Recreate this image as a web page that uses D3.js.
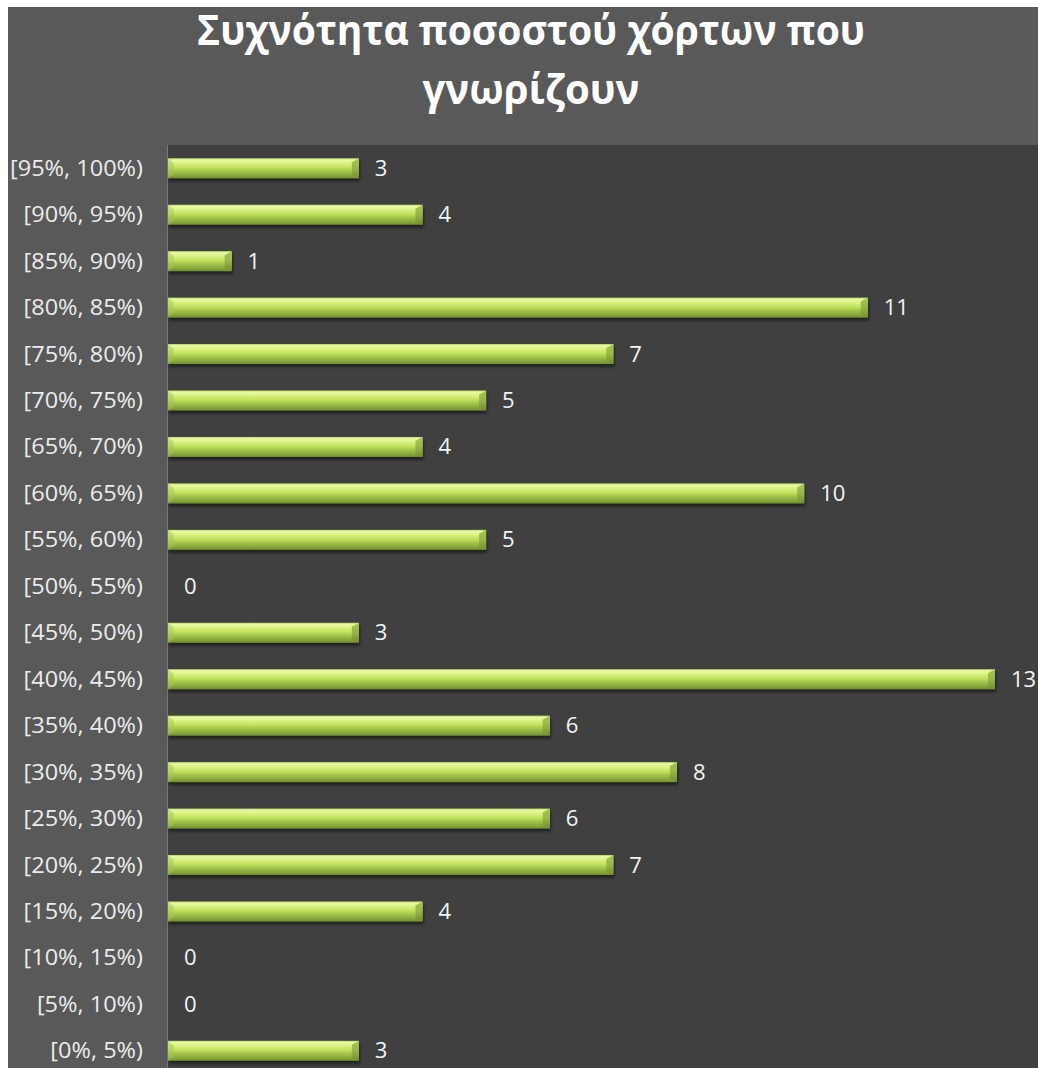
<!DOCTYPE html>
<html>
<head>
<meta charset="utf-8">
<script src="https://cdn.jsdelivr.net/npm/d3@7/dist/d3.min.js"></script>
<style>
  html, body { margin: 0; padding: 0; background: #ffffff; }
  svg { display: block; }
</style>
</head>
<body>
<svg id="chart" width="1038" height="1068"></svg>
<script>
// Frequency of the share of known herbs, in 5% bins (bottom to top)
const categories = [
  "[0%, 5%)", "[5%, 10%)", "[10%, 15%)", "[15%, 20%)", "[20%, 25%)",
  "[25%, 30%)", "[30%, 35%)", "[35%, 40%)", "[40%, 45%)", "[45%, 50%)",
  "[50%, 55%)", "[55%, 60%)", "[60%, 65%)", "[65%, 70%)", "[70%, 75%)",
  "[75%, 80%)", "[80%, 85%)", "[85%, 90%)", "[90%, 95%)", "[95%, 100%)"
];
const counts = [3, 0, 0, 4, 7, 6, 8, 6, 13, 3, 0, 5, 10, 4, 5, 7, 11, 1, 4, 3];
const titleLines = ["Συχνότητα ποσοστού  χόρτων που", "γνωρίζουν"];

const W = 1038, H = 1068;
const svg = d3.select("#chart");

// Outer chart frame
svg.append("rect").attr("x", 8).attr("y", 7).attr("width", W - 8).attr("height", H - 7)
  .attr("fill", "#595959");

// Plot area
const plot = { left: 167, top: 145, right: W, bottom: 1074 };
svg.append("rect").attr("x", plot.left).attr("y", plot.top)
  .attr("width", plot.right - plot.left).attr("height", H - plot.top)
  .attr("fill", "#404040");

const defs = svg.append("defs");
const grad = defs.append("linearGradient").attr("id", "barGrad")
  .attr("x1", 0).attr("y1", 0).attr("x2", 0).attr("y2", 1);
[
  [0.00, "#b4d463"], [0.08, "#e9f9a6"], [0.25, "#daf282"], [0.48, "#bfdf5c"],
  [0.62, "#a7c84d"], [0.82, "#8eac3f"], [1.00, "#738f31"]
].forEach(([o, c]) => grad.append("stop").attr("offset", o).attr("stop-color", c));

const endGrad = defs.append("linearGradient").attr("id", "endGrad")
  .attr("x1", 0).attr("y1", 0).attr("x2", 0).attr("y2", 1);
[[0, "#a6c653"], [0.5, "#96b647"], [1, "#728d31"]]
  .forEach(([o, c]) => endGrad.append("stop").attr("offset", o).attr("stop-color", c));

const shadow = defs.append("filter").attr("id", "barShadow")
  .attr("x", "-5%").attr("y", "-30%").attr("width", "110%").attr("height", "180%");
shadow.append("feDropShadow").attr("dx", 1).attr("dy", 3).attr("stdDeviation", 1.5)
  .attr("flood-color", "#000").attr("flood-opacity", 0.5);

// Scales
const x = d3.scaleLinear().domain([0, 13]).range([168, 995]);
const y = d3.scaleBand().domain(categories.slice().reverse())
  .range([plot.top, plot.bottom]).paddingInner(0.57).paddingOuter(0.285);

// Category axis line
svg.append("line").attr("x1", plot.left + 0.5).attr("x2", plot.left + 0.5)
  .attr("y1", plot.top).attr("y2", H).attr("stroke", "#7a7a7a").attr("stroke-width", 1);

const data = categories.map((c, i) => ({ cat: c, v: counts[i] }));

// Bars
const bars = svg.append("g").selectAll("g.bar")
  .data(data.filter(d => d.v > 0)).join("g").attr("class", "bar")
  .attr("filter", "url(#barShadow)");

bars.append("rect")
  .attr("x", x(0)).attr("y", d => y(d.cat))
  .attr("width", d => x(d.v) - x(0)).attr("height", y.bandwidth())
  .attr("fill", "url(#barGrad)");

// Bevelled right end
bars.append("path")
  .attr("d", d => {
    const x1 = x(d.v), t = y(d.cat), b = t + y.bandwidth();
    return `M${x1 - 7},${t + 4} L${x1},${t} L${x1},${b} L${x1 - 7},${b - 3} Z`;
  })
  .attr("fill", "url(#endGrad)");

// Bevelled left end highlight
bars.append("path")
  .attr("d", d => {
    const x0 = x(0), t = y(d.cat), b = t + y.bandwidth();
    return `M${x0},${t} L${x0 + 6},${t + 5} L${x0 + 6},${b - 4} L${x0},${b} Z`;
  })
  .attr("fill", "#a6c653").attr("opacity", 0.5);

// Category labels
const catLabels = svg.append("g").selectAll("text")
  .data(categories).join("text")
  .attr("x", 143).attr("y", d => y(d) + y.bandwidth() / 2)
  .attr("dy", "0.36em").attr("text-anchor", "end")
  .attr("font-family", "'Open Sans', sans-serif").attr("font-size", 21)
  .attr("fill", "#ececec").text(d => d);

// Value labels
const valLabels = svg.append("g").selectAll("text")
  .data(data).join("text")
  .attr("x", d => x(d.v) + 16).attr("y", d => y(d.cat) + y.bandwidth() / 2)
  .attr("dy", "0.36em")
  .attr("font-family", "'Open Sans', sans-serif").attr("font-size", 21)
  .attr("fill", "#f4f4f4").text(d => d.v);

// Fit the text to the chart's condensed-face proportions
function stretch(sel, k) {
  sel.each(function () {
    const n = this.getComputedTextLength();
    d3.select(this).attr("textLength", n * k).attr("lengthAdjust", "spacingAndGlyphs");
  });
}
stretch(catLabels, 1.12);
stretch(valLabels, 1.05);

// Title
const title = svg.append("g").selectAll("text").data(titleLines).join("text")
  .attr("x", 531).attr("y", (d, i) => 45 + i * 59)
  .attr("text-anchor", "middle")
  .attr("font-family", "'Open Sans', sans-serif").attr("font-weight", 700)
  .attr("font-size", 41).attr("fill", "#ffffff")
  .text(d => d);
const titleWidths = [668, 217];
title.attr("textLength", (d, i) => titleWidths[i]).attr("lengthAdjust", "spacingAndGlyphs");
</script>
</body>
</html>
